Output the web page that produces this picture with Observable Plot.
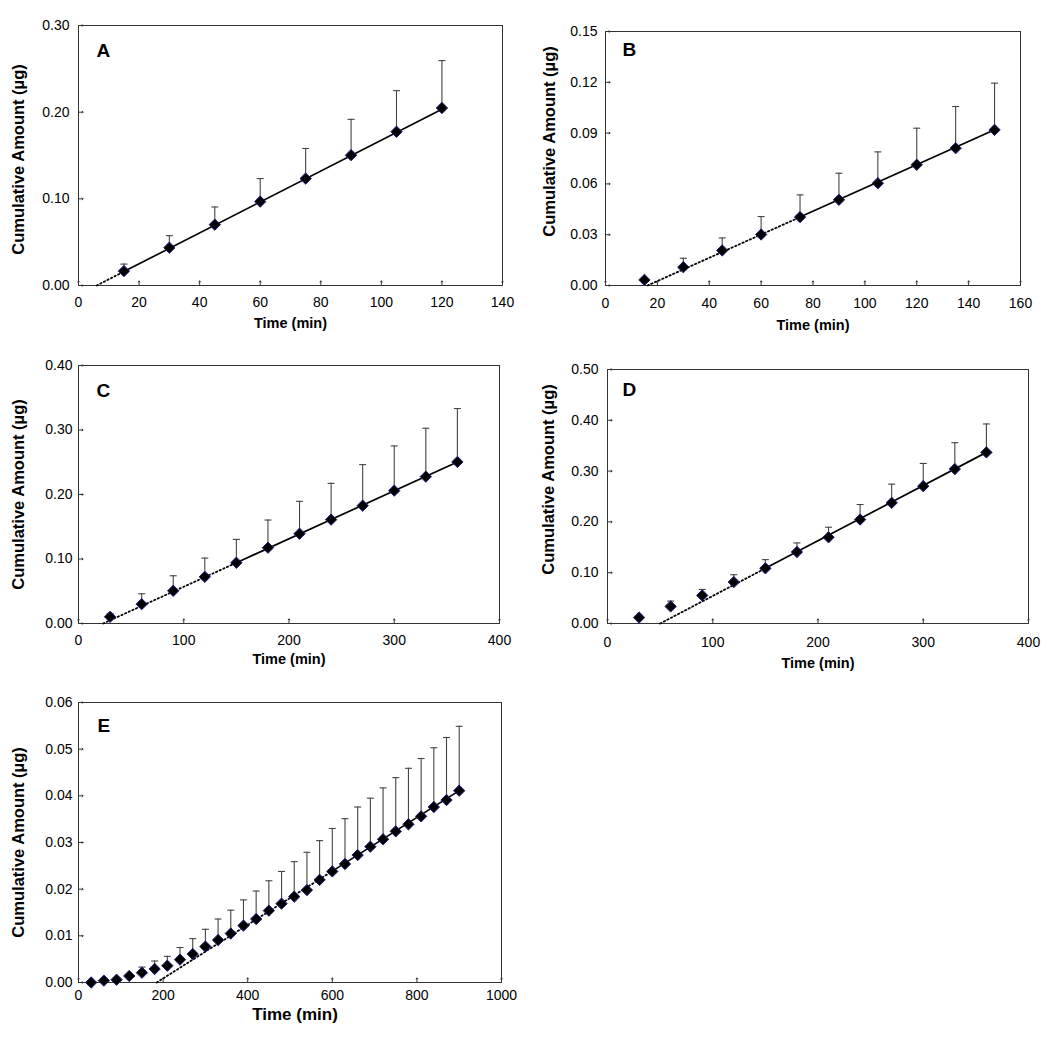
<!DOCTYPE html>
<html><head><meta charset="utf-8">
<script src="https://cdn.jsdelivr.net/npm/d3@7"></script>
<script src="https://cdn.jsdelivr.net/npm/@observablehq/plot@0.6"></script>
<style>
body{margin:0;background:#fff;}
#wrap{position:relative;width:1050px;height:1044px;background:#fff;}
#wrap svg{position:absolute;}
</style></head><body><div id="wrap"></div>
<script>
// ---------- data ----------
const aTime = [15, 30, 45, 60, 75, 90, 105, 120];
const aMean = [0.0166, 0.0436, 0.0702, 0.0968, 0.1234, 0.1504, 0.1774, 0.2048];
const aUpper = [0.0247, 0.0575, 0.0906, 0.1234, 0.1581, 0.1917, 0.2248, 0.2595];

const bTime = [15, 30, 45, 60, 75, 90, 105, 120, 135, 150];
const bMean = [0.0033, 0.0108, 0.0207, 0.0301, 0.0404, 0.0506, 0.0604, 0.0713, 0.0811, 0.0919];
const bUpper = [null, 0.0161, 0.0281, 0.0407, 0.0535, 0.0663, 0.0789, 0.0929, 0.1057, 0.1195];

const cTime = [30, 60, 90, 120, 150, 180, 210, 240, 270, 300, 330, 360];
const cMean = [0.0103, 0.0300, 0.0507, 0.0724, 0.0942, 0.1175, 0.1392, 0.1610, 0.1827, 0.2060, 0.2277, 0.2505];
const cUpper = [0.0155, 0.0461, 0.0740, 0.1014, 0.1304, 0.1604, 0.1894, 0.2173, 0.2463, 0.2753, 0.3027, 0.3333];

const dTime = [30, 60, 90, 120, 150, 180, 210, 240, 270, 300, 330, 360];
const dMean = [0.0118, 0.0336, 0.0553, 0.0816, 0.1086, 0.1408, 0.1697, 0.2046, 0.2375, 0.2704, 0.3040, 0.3368];
const dUpper = [null, 0.0441, 0.0671, 0.0960, 0.1257, 0.1586, 0.1895, 0.2342, 0.2743, 0.3151, 0.3559, 0.3928];

const eTime = [30, 60, 90, 120, 150, 180, 210, 240, 270, 300, 330, 360, 390, 420, 450,
               480, 510, 540, 570, 600, 630, 660, 690, 720, 750, 780, 810, 840, 870, 900];
const eMean = [0.0000, 0.0004, 0.0006, 0.0014, 0.0021, 0.0029, 0.0036, 0.0049, 0.0061, 0.0077,
               0.0091, 0.0105, 0.0122, 0.0136, 0.0154, 0.0169, 0.0184, 0.0198, 0.0220, 0.0238,
               0.0254, 0.0273, 0.0291, 0.0307, 0.0324, 0.0339, 0.0356, 0.0376, 0.0391, 0.0411];
const eUpper = [null, null, null, null, 0.0033, 0.0046, 0.0056, 0.0075, 0.0094, 0.0114,
                0.0136, 0.0155, 0.0177, 0.0196, 0.0218, 0.0238, 0.0259, 0.0279, 0.0304, 0.0330,
                0.0351, 0.0376, 0.0395, 0.0417, 0.0439, 0.0459, 0.0480, 0.0503, 0.0525, 0.0549];

// linear fits: [x-intercept, slope, solid start, solid end]
const aFit = [6.0, 0.001785, 15, 120];
const bFit = [16.2, 0.000687, 75, 150];
const cFit = [23.4, 0.000744, 150, 360];
const dFit = [50.1, 0.001087, 150, 360];
const eFit = [185, 0.0000575, 600, 900];

// axis ticks
const aXTicks = [0, 20, 40, 60, 80, 100, 120, 140];
const aYTicks = [0, 0.10, 0.20, 0.30];
const bXTicks = [0, 20, 40, 60, 80, 100, 120, 140, 160];
const bYTicks = [0, 0.03, 0.06, 0.09, 0.12, 0.15];
const cXTicks = [0, 100, 200, 300, 400];
const cYTicks = [0, 0.10, 0.20, 0.30, 0.40];
const dXTicks = [0, 100, 200, 300, 400];
const dYTicks = [0, 0.10, 0.20, 0.30, 0.40, 0.50];
const eXTicks = [0, 200, 400, 600, 800, 1000];
const eYTicks = [0, 0.01, 0.02, 0.03, 0.04, 0.05, 0.06];

const panelLetters = ["A", "B", "C", "D", "E"];
const xTitle = "Time (min)";
const yTitle = "Cumulative Amount (µg)";

// ---------- drawing ----------
const FONT = "'Liberation Sans', Arial, Helvetica, sans-serif";
const capSymbol = {draw(ctx) { ctx.moveTo(-3.5, 0); ctx.lineTo(3.5, 0); }};

function panel(p) {
  const data = p.time.map((t, i) => ({t, m: p.mean[i], u: p.upper[i]}));
  const bars = data.filter(d => d.u != null);
  const [xi, slope, s0, s1] = p.fit;
  const f = x => slope * (x - xi);
  const dotted = [{t: xi, v: f(xi)}, {t: s0, v: f(s0)}];
  const solid = [{t: s0, v: f(s0)}, {t: s1, v: f(s1)}];
  const svg = Plot.plot({
    width: p.w, height: p.h,
    marginLeft: p.ml, marginRight: p.mr, marginTop: p.mt, marginBottom: p.mb,
    style: {fontFamily: FONT, fontSize: "14px", color: "#000", background: "transparent"},
    x: {domain: [p.xTicks[0], p.xTicks[p.xTicks.length - 1]]},
    y: {domain: [p.yTicks[0], p.yTicks[p.yTicks.length - 1]]},
    marks: [
      Plot.axisX(p.xTicks, {tickSize: 0, tickPadding: p.xPad, label: null, fontSize: 14, tickFormat: d3.format("d")}),
      Plot.axisY(p.yTicks, {tickSize: 0, tickPadding: p.yPad, label: null, fontSize: 14, tickFormat: d3.format(".2f")}),
      Plot.vector(p.xTicks, {x: d => d, frameAnchor: "bottom", length: 4.5, rotate: 0, anchor: "start", stroke: "#333", strokeWidth: 1}),
      Plot.vector(p.yTicks, {y: d => d, frameAnchor: "left", length: 4.5, rotate: 90, anchor: "start", stroke: "#333", strokeWidth: 1}),
      Plot.frame({stroke: "#333", strokeWidth: 1}),
      Plot.line(dotted, {x: "t", y: "v", stroke: "#000", strokeWidth: 1.8, strokeDasharray: "1.4,2.6"}),
      Plot.line(solid, {x: "t", y: "v", stroke: "#000", strokeWidth: 1.7}),
      Plot.ruleX(bars, {x: "t", y1: "m", y2: "u", stroke: "#444", strokeWidth: 1.1}),
      Plot.dot(bars, {x: "t", y: "u", symbol: capSymbol, fill: "none", stroke: "#444", strokeWidth: 1.1, r: 2}),
      Plot.dot(data, {x: "t", y: "m", symbol: "diamond2", r: 5.1, fill: "#000", stroke: "#1c1c7a", strokeWidth: 1}),
      Plot.text([p.letter], {text: d => d, frameAnchor: "top-left", dx: p.lx, dy: p.ly, textAnchor: "start", lineAnchor: "top", fontSize: 19, fontWeight: "bold"}),
      Plot.text([xTitle], {text: d => d, frameAnchor: "bottom", dx: p.xtDx || 0, dy: p.xtDy, textAnchor: "middle", lineAnchor: "middle", fontSize: p.xtSize || 14.5, fontWeight: "bold"}),
      Plot.text([yTitle], {text: d => d, frameAnchor: "left", rotate: -90, dx: p.ytDx, dy: p.ytDy, textAnchor: "middle", lineAnchor: "middle", fontSize: 16.5, fontWeight: "bold"})
    ]
  });
  svg.style.left = p.left + "px";
  svg.style.top = p.top + "px";
  document.getElementById("wrap").appendChild(svg);
}

panel({letter: panelLetters[0], time: aTime, mean: aMean, upper: aUpper, fit: aFit, xTicks: aXTicks, yTicks: aYTicks,
  left: 0, top: 0, w: 525, h: 340, ml: 78, mr: 23, mt: 25, mb: 55, xPad: 12, yPad: 9,
  lx: 18, ly: 18, xtDy: 38, ytDx: -60, ytDy: 4});
panel({letter: panelLetters[1], time: bTime, mean: bMean, upper: bUpper, fit: bFit, xTicks: bXTicks, yTicks: bYTicks,
  left: 525, top: 0, w: 525, h: 340, ml: 80, mr: 30, mt: 31, mb: 55, xPad: 13, yPad: 8,
  lx: 17, ly: 11, xtDy: 40, ytDx: -56, ytDy: -17});
panel({letter: panelLetters[2], time: cTime, mean: cMean, upper: cUpper, fit: cFit, xTicks: cXTicks, yTicks: cYTicks,
  left: 0, top: 340, w: 525, h: 340, ml: 78, mr: 26, mt: 25, mb: 57, xPad: 12, yPad: 6,
  lx: 18, ly: 18, xtDy: 36, ytDx: -60, ytDy: 0});
panel({letter: panelLetters[3], time: dTime, mean: dMean, upper: dUpper, fit: dFit, xTicks: dXTicks, yTicks: dYTicks,
  left: 525, top: 340, w: 525, h: 340, ml: 82, mr: 22, mt: 29, mb: 57, xPad: 14, yPad: 9,
  lx: 15, ly: 13, xtDy: 40, ytDx: -59, ytDy: -17});
panel({letter: panelLetters[4], time: eTime, mean: eMean, upper: eUpper, fit: eFit, xTicks: eXTicks, yTicks: eYTicks,
  left: 0, top: 680, w: 525, h: 364, ml: 78, mr: 24, mt: 22, mb: 62, xPad: 8, yPad: 6,
  lx: 19, ly: 16, xtDy: 32, xtDx: 5, xtSize: 17, ytDx: -60, ytDy: 0});
</script></body></html>
